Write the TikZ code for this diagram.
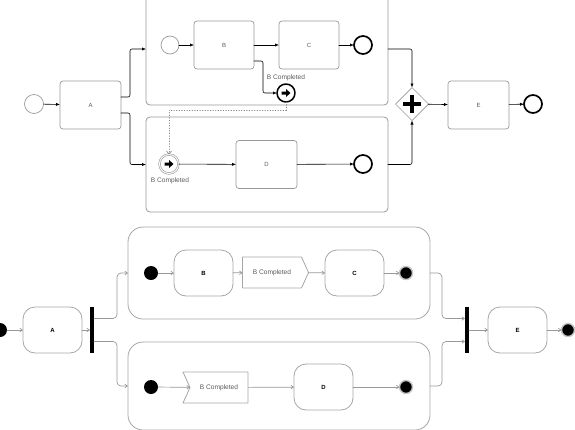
\documentclass[tikz,border=0pt]{standalone}
\usepackage{fontspec}
\setmainfont{Liberation Sans}
\usetikzlibrary{shapes.geometric,shapes.symbols,arrows.meta}

\begin{document}
\begin{tikzpicture}[x=1pt,y=-1pt,font=\fontsize{6}{7}\selectfont,line join=round,line cap=round,>={Latex[length=4pt,width=3.2pt]}]
\tikzset{every node/.style={inner sep=0pt,outer sep=0pt},
  task/.style={draw=gray!80,rounded corners=3pt,line width=0.7pt,minimum width=61pt,minimum height=48pt,text=gray!70!black},
  pool/.style={draw=gray!80,rounded corners=4pt,line width=0.8pt,minimum width=242pt},
  startev/.style={circle,draw=gray!80,line width=0.7pt,minimum size=19pt},
  endev/.style={circle,draw=black,line width=1.7pt,minimum size=18pt},
  evarrow/.style={path picture={\fill[black] (path picture bounding box.center) ++(-4.5,-1.5) -- ++(4.5,0) -- ++(0,-2.5) -- ++(4.5,4) -- ++(-4.5,4) -- ++(0,-2.5) -- ++(-4.5,0) -- cycle;}},
  throwev/.style={circle,draw=black,line width=1.5pt,minimum size=18pt,evarrow},
  catchev/.style={circle,draw=gray!80,line width=0.6pt,double=white,double distance=1pt,minimum size=19pt,evarrow},
  gate/.style={diamond,draw=gray!80,line width=0.7pt,minimum size=33pt,path picture={
    \draw[black,line width=3.5pt,line cap=butt] (path picture bounding box.center) ++(-9,0) -- ++(18,0);
    \draw[black,line width=3.5pt,line cap=butt] (path picture bounding box.center) ++(0,-9) -- ++(0,18);}},
  lbl/.style={font=\fontsize{6.6}{7}\selectfont,text=gray!70!black},
  flow/.style={->,black,line width=0.6pt,rounded corners=2pt},
  msg/.style={-{Straight Barb[length=3pt,width=5pt]},gray,dotted,line width=0.6pt},
  act/.style={draw=gray!70,rounded corners=12pt,line width=0.8pt,minimum width=59pt,minimum height=46pt,font=\fontsize{6}{7}\selectfont\bfseries},
  lane/.style={draw=gray!70,rounded corners=15pt,line width=0.8pt,minimum width=302pt},
  init/.style={circle,fill=black,minimum size=14pt},
  final/.style={circle,fill=black,draw=gray!45,line width=1.4pt,minimum size=13pt},
  bar/.style={fill=black,minimum width=4pt,minimum height=46pt},
  send/.style={signal,signal to=east,signal pointer angle=131,draw=gray!70,line width=0.8pt,minimum width=66pt,minimum height=31pt,font=\fontsize{6.6}{7}\selectfont,text=gray!70!black},
  accept/.style={signal,signal to=nowhere,signal from=west,signal pointer angle=131,draw=gray!70,line width=0.8pt,minimum width=65pt,minimum height=31pt,font=\fontsize{6.6}{7}\selectfont,text=gray!70!black},
  cf/.style={-{Straight Barb[length=2.5pt,width=3.5pt]},gray!80,line width=0.7pt,rounded corners=4pt}}
\useasboundingbox (0,0) rectangle (575,429);
% BPMN
\node[startev] (s1) at (34,104) {};
\node[task] (a1) at (90.5,105) {A};
\node[pool,minimum height=112pt] (p1) at (267,49) {};
\node[pool,minimum height=95pt] (p2) at (267,164.5) {};
\node[startev,minimum size=18pt] (s2) at (170,45) {};
\node[task,minimum width=60pt] (b1) at (224,45) {B};
\node[task,minimum width=60pt] (c1) at (309,45) {C};
\node[endev] (e1) at (363,45) {};
\node[throwev] (t1) at (286,93) {};
\node[lbl] (t1l) at (286,78) {B Completed};
\node[catchev] (k1) at (169,164) {};
\node[lbl] (k1l) at (170,181) {B Completed};
\node[task] (d1) at (266.5,164.5) {D};
\node[endev] (e2) at (363,164) {};
\node[gate] (g1) at (412,104) {};
\node[task] (f1) at (478.5,105) {E};
\node[endev] (e3) at (533,104) {};
\draw[flow] (s1) -- (a1);
\draw[flow] ([yshift=8pt]a1.east) -- ++(9,0) |- (p1.west);
\draw[flow] ([yshift=-8pt]a1.east) -- ++(9,0) |- (p2.west);
\draw[flow] (s2) -- (b1);
\draw[flow] (b1) -- (c1);
\draw[flow] (c1) -- (e1);
\draw[flow] ([yshift=8pt]b1.south east) -- ++(9,0) |- (t1);
\draw[msg] (t1.south) -- ++(0,8) -| (k1.north);
\draw[flow] (k1) -- (d1);
\draw[flow] (d1) -- (e2);
\draw[flow] (p1.east) -| (g1.north);
\draw[flow] (p2.east) -| (g1.south);
\draw[flow] (g1) -- (f1);
\draw[flow] (f1) -- (e3);
% UML activity
\node[init] (s3) at (0,330) {};
\node[act] (a2) at (52.5,330) {A};
\node[bar] (fk) at (92,330) {};
\node[lane,minimum height=92pt] (q1) at (279,273) {};
\node[lane,minimum height=88pt] (q2) at (279,386) {};
\node[init] (s4) at (151,273) {};
\node[act] (b2) at (203.5,273) {B};
\node[send] (sd) at (272,272.5) {B Completed};
\node[act] (c2) at (354.5,273) {C};
\node[final] (ff1) at (406,273) {};
\node[init] (s5) at (151,387) {};
\node[accept] (ac) at (219,387.5) {B Completed};
\node[act] (d2) at (323.5,387) {D};
\node[final] (ff2) at (406,387) {};
\node[bar] (jn) at (467,330) {};
\node[act] (f2) at (517.5,330) {E};
\node[final] (ff3) at (568,330) {};
\draw[cf] (s3) -- (a2);
\draw[cf] (a2) -- (fk);
\draw[cf] ([yshift=11.5pt]fk.east) -- ++(23,0) |- (q1.west);
\draw[cf] ([yshift=-11.5pt]fk.east) -- ++(23,0) |- (q2.west);
\draw[cf] (s4) -- (b2);
\draw[cf] (b2) -- (sd);
\draw[cf] (sd) -- (c2);
\draw[cf] (c2) -- (ff1);
\draw[cf] (s5) -- (ac);
\draw[cf] (ac) -- (d2);
\draw[cf] (d2) -- (ff2);
\draw[cf] (q1.east) -- ++(12,0) |- ([yshift=11.5pt]jn.west);
\draw[cf] (q2.east) -- ++(12,0) |- ([yshift=-11.5pt]jn.west);
\draw[cf] (jn) -- (f2);
\draw[cf] (f2) -- (ff3);
\end{tikzpicture}
\end{document}
